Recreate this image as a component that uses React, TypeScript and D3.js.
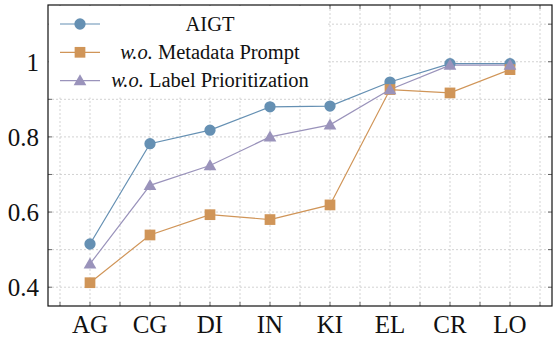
import * as d3 from "d3";
import React from "react";

const categories = ["AG", "CG", "DI", "IN", "KI", "EL", "CR", "LO"];
const aigt = [0.515, 0.782, 0.818, 0.88, 0.882, 0.946, 0.995, 0.995];
const noMetadata = [0.412, 0.539, 0.593, 0.58, 0.619, 0.926, 0.917, 0.979];
const noLabel = [0.462, 0.671, 0.724, 0.8, 0.832, 0.926, 0.991, 0.991];
const yTicks = [0.4, 0.6, 0.8, 1];
const yMinor = [0.5, 0.7, 0.9, 1.1];

const series = [
  { name: "AIGT", prefix: "", values: aigt, color: "#6590b3", marker: "circle" },
  { name: "Metadata Prompt", prefix: "w.o.", values: noMetadata, color: "#d09558", marker: "square" },
  { name: "Label Prioritization", prefix: "w.o.", values: noLabel, color: "#9a93bb", marker: "triangle" },
];

const W = 553;
const H = 338;
const margin = { top: 5, right: 1, bottom: 32, left: 48 };
const width = W - margin.left - margin.right;
const height = H - margin.top - margin.bottom;
const font = "Liberation Serif";

const symbols: Record<string, d3.SymbolType> = {
  circle: d3.symbolCircle,
  square: d3.symbolSquare,
  triangle: d3.symbolTriangle,
};
const sizes: Record<string, number> = { circle: 100, square: 115, triangle: 70 };

const App = () => {
  const x = d3.scaleLinear().domain([-0.7, categories.length - 0.3]).range([0, width]);
  const y = d3.scaleLinear().domain([0.35, 1.151]).range([height, 0]);
  const xMinor = d3.range(-0.5, categories.length, 0.5);
  const yAll = [...yTicks, ...yMinor];
  const line = d3
    .line<number>()
    .x((_, i) => x(i))
    .y((d) => y(d));
  const tickLen = 4;
  const grid = { stroke: "#c8c8c8", strokeWidth: 0.8, strokeDasharray: "2,2" };
  const dy = (m: string) => (m === "triangle" ? 1 : 0);

  return (
    <svg width={W} height={H} style={{ position: "absolute", left: 0, top: 0 }}>
      <g transform={`translate(${margin.left},${margin.top})`}>
        {/* grid */}
        {xMinor.map((v) => (
          <line key={"gx" + v} x1={x(v)} x2={x(v)} y1={0} y2={height} {...grid} />
        ))}
        {yAll.map((v) => (
          <line key={"gy" + v} x1={0} x2={width} y1={y(v)} y2={y(v)} {...grid} />
        ))}
        {/* ticks */}
        <g stroke="#444" strokeWidth={0.8}>
          {xMinor.map((v) => (
            <g key={"tx" + v}>
              <line x1={x(v)} x2={x(v)} y1={height} y2={height - tickLen} />
              <line x1={x(v)} x2={x(v)} y1={0} y2={tickLen} />
            </g>
          ))}
          {yAll.map((v) => (
            <g key={"ty" + v}>
              <line x1={0} x2={tickLen} y1={y(v)} y2={y(v)} />
              <line x1={width} x2={width - tickLen} y1={y(v)} y2={y(v)} />
            </g>
          ))}
        </g>
        {/* lines */}
        {series.map((s) => (
          <path key={"l" + s.name} d={line(s.values) || ""} fill="none" stroke={s.color} strokeWidth={1.2} />
        ))}
        {series.map((s) =>
          s.values.map((v, i) => (
            <path
              key={s.name + i}
              transform={`translate(${x(i)},${y(v) + dy(s.marker)})`}
              d={d3.symbol(symbols[s.marker], sizes[s.marker])() || ""}
              fill={s.color}
            />
          ))
        )}
        {/* legend */}
        <rect x={0.5} y={0.5} width={279} height={92} fill="white" />
        {series.map((s, i) => {
          const cy = 19 + i * 28.3;
          return (
            <g key={"lg" + s.name}>
              <line x1={12} x2={52} y1={cy} y2={cy} stroke={s.color} strokeWidth={1.2} />
              <path
                transform={`translate(32,${cy + dy(s.marker)})`}
                d={d3.symbol(symbols[s.marker], sizes[s.marker])() || ""}
                fill={s.color}
              />
              <text
                x={162}
                y={cy + 6.5}
                textAnchor="middle"
                fill="#111"
                style={{ fontFamily: font, fontSize: 20.5 }}
              >
                {s.prefix ? <tspan style={{ fontStyle: "italic" }}>{s.prefix + " "}</tspan> : null}
                <tspan>{s.name}</tspan>
              </text>
            </g>
          );
        })}
        {/* frame */}
        <rect width={width} height={height} fill="none" stroke="#111" strokeWidth={1.2} />
        {/* tick labels */}
        {categories.map((c, i) => (
          <text
            key={c}
            x={x(i)}
            y={height + 26.5}
            textAnchor="middle"
            fill="#111"
            style={{ fontFamily: font, fontSize: 25 }}
          >
            {c}
          </text>
        ))}
        {yTicks.map((v) => (
          <text
            key={"yl" + v}
            x={-9}
            y={y(v) + 9}
            textAnchor="end"
            fill="#111"
            style={{ fontFamily: font, fontSize: 25 }}
          >
            {d3.format("~g")(v)}
          </text>
        ))}
      </g>
    </svg>
  );
};

export default App;
